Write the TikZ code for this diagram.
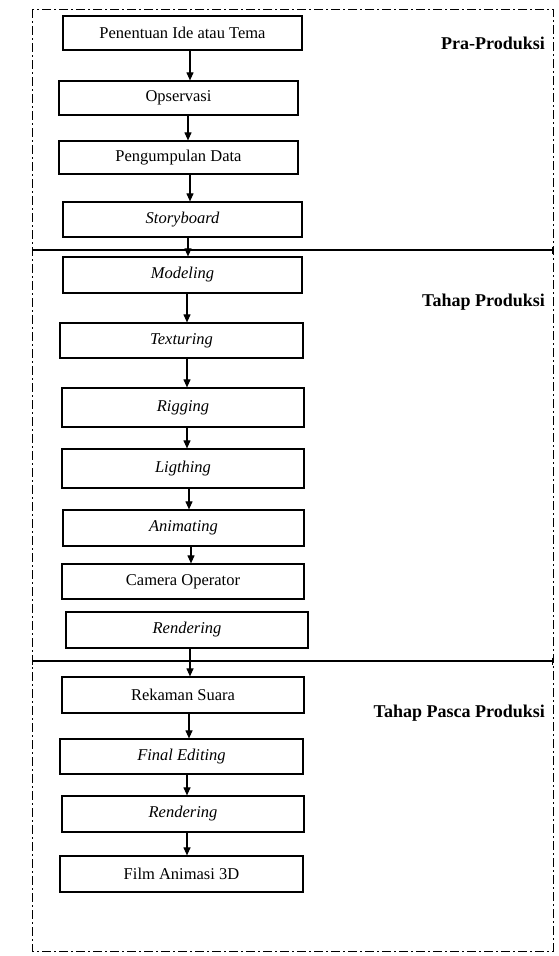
\documentclass[tikz,border=0pt]{standalone}
\usepackage{fontspec}
\setmainfont{Liberation Serif}
\usetikzlibrary{arrows.meta}
\tikzset{
  stepbox/.style={draw, line width=1.2pt, minimum height=#1, inner sep=0pt, font=\fontsize{16.5}{18}\selectfont},
  arr/.style={line width=1.1pt, -{Triangle[length=8pt,width=7pt]}},
  phase/.style={anchor=east, font=\fontsize{18}{20}\selectfont\bfseries, inner sep=0pt},
  divider/.style={line width=1.1pt, {Bar[width=7pt]}-{Bar[width=7pt]}},
  frame/.style={line width=1pt, dash pattern=on 9pt off 3pt on 2pt off 3pt}
}
\begin{document}
\begin{tikzpicture}[x=1pt,y=-1pt]
\useasboundingbox (0,0) rectangle (559,956);
\draw[frame] (32,9) rectangle (553,951);
\draw[divider] (32,250) -- (553,250);
\draw[divider] (32,661) -- (553,661);

\node[phase] (p1) at (545,43) {Pra-Produksi};
\node[phase] (p2) at (545,302) {Tahap Produksi};
\node[phase] (p3) at (545,713) {Tahap Pasca Produksi};

\node[stepbox=34pt, minimum width=239pt] (b1) at (182.5,33) {Penentuan Ide atau Tema};
\node[stepbox=34pt, minimum width=239pt] (b2) at (178.5,98) {Opservasi};
\node[stepbox=33pt, minimum width=239pt] (b3) at (178.5,157.5) {Pengumpulan Data};
\node[stepbox=35pt, minimum width=239pt] (b4) at (182.5,219.5) {\itshape Storyboard};
\node[stepbox=36pt, minimum width=239pt] (b5) at (182.5,275) {\itshape Modeling};
\node[stepbox=35pt, minimum width=243pt] (b6) at (181.5,340.5) {\itshape Texturing};
\node[stepbox=39pt, minimum width=242pt] (b7) at (183,407.5) {\itshape Rigging};
\node[stepbox=39pt, minimum width=242pt] (b8) at (183,468.5) {\itshape Ligthing};
\node[stepbox=36pt, minimum width=241pt] (b9) at (183.5,528) {\itshape Animating};
\node[stepbox=35pt, minimum width=242pt] (b10) at (183,581.5) {Camera Operator};
\node[stepbox=36pt, minimum width=242pt] (b11) at (187,630) {\itshape Rendering};
\node[stepbox=36pt, minimum width=242pt] (b12) at (183,695) {Rekaman Suara};
\node[stepbox=35pt, minimum width=243pt] (b13) at (181.5,756.5) {\itshape Final Editing};
\node[stepbox=36pt, minimum width=242pt] (b14) at (183,814) {\itshape Rendering};
\node[stepbox=36pt, minimum width=243pt] (b15) at (181.5,874) {Film Animasi 3D};

\draw[arr] (b1.south -| 190,0) -- (b2.north -| 190,0);
\draw[arr] (b2.south -| 188,0) -- (b3.north -| 188,0);
\draw[arr] (b3.south -| 190,0) -- (b4.north -| 190,0);
\draw[arr] (b4.south -| 188,0) -- (b5.north -| 188,0);
\draw[arr] (b5.south -| 187,0) -- (b6.north -| 187,0);
\draw[arr] (b6.south -| 187,0) -- (b7.north -| 187,0);
\draw[arr] (b7.south -| 187,0) -- (b8.north -| 187,0);
\draw[arr] (b8.south -| 189,0) -- (b9.north -| 189,0);
\draw[arr] (b9.south -| 191,0) -- (b10.north -| 191,0);
\draw[arr] (b11.south -| 190,0) -- (b12.north -| 190,0);
\draw[arr] (b12.south -| 189,0) -- (b13.north -| 189,0);
\draw[arr] (b13.south -| 187,0) -- (b14.north -| 187,0);
\draw[arr] (b14.south -| 187,0) -- (b15.north -| 187,0);
\end{tikzpicture}
\end{document}
